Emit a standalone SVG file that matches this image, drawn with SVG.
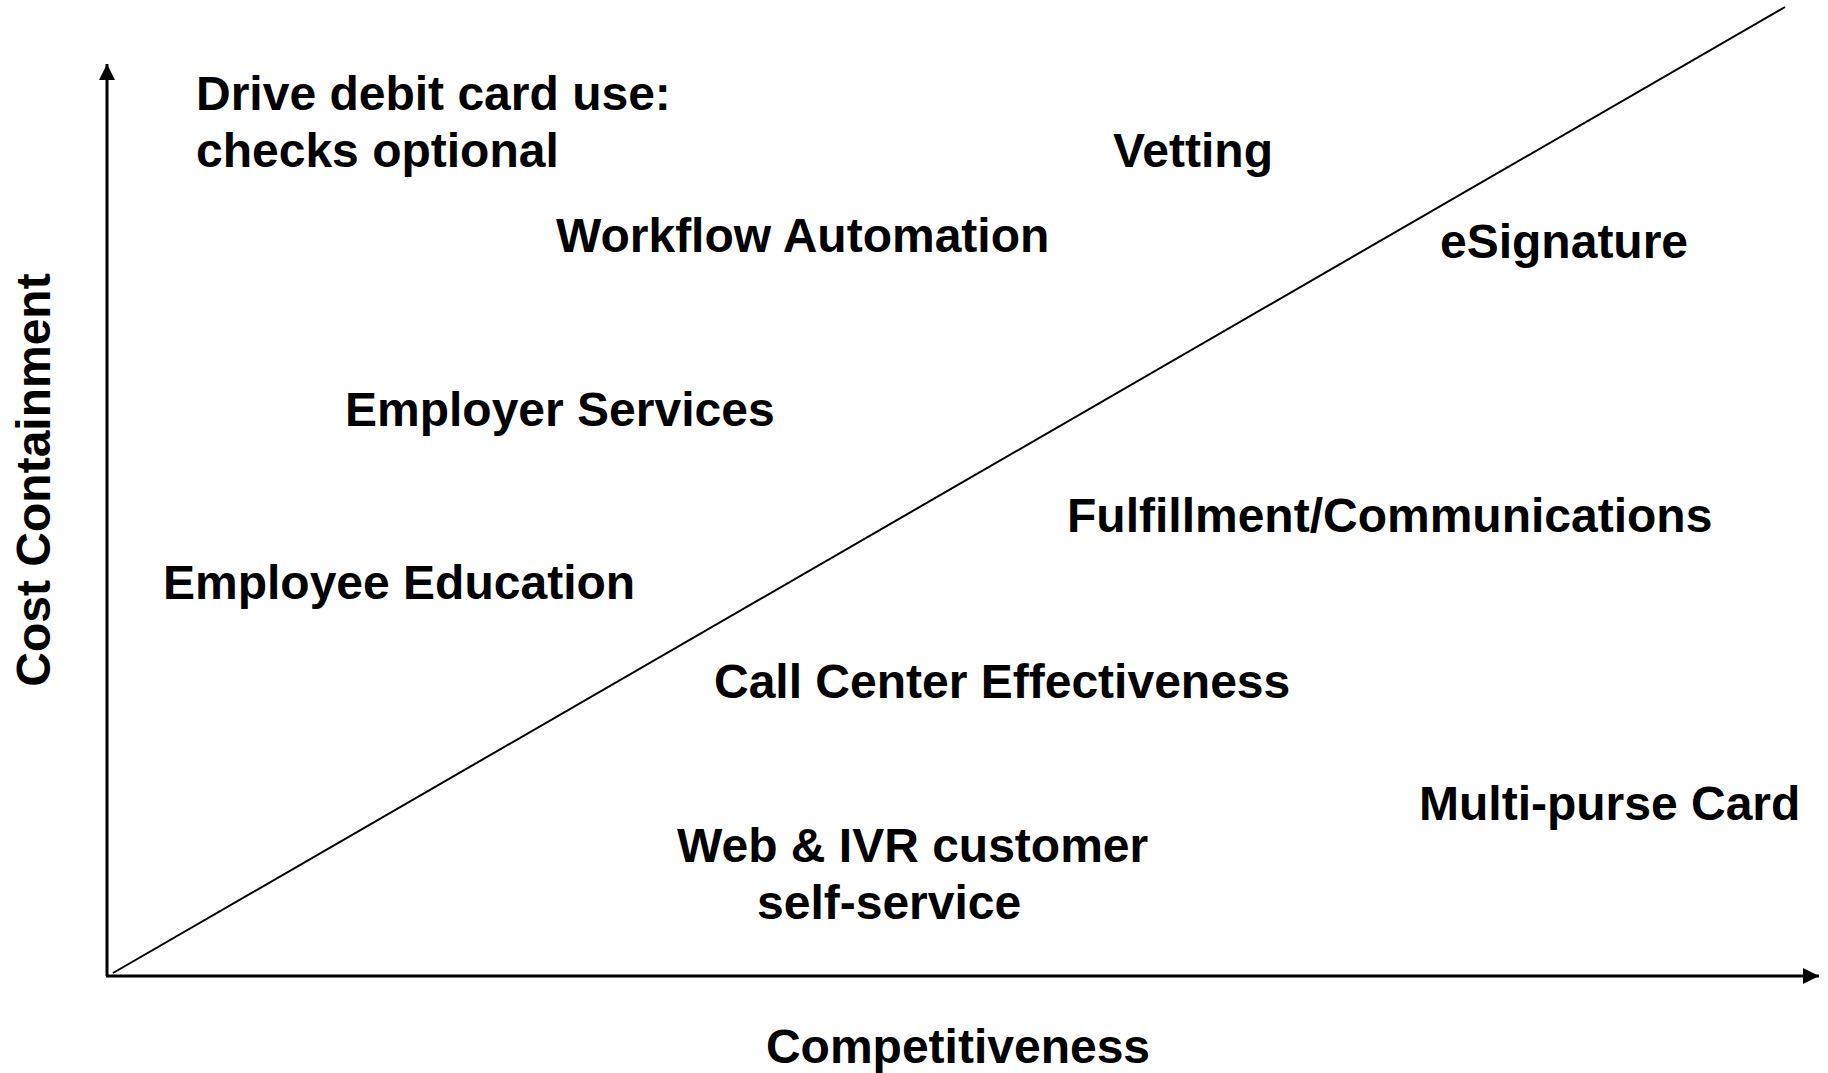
<svg xmlns="http://www.w3.org/2000/svg" width="1828" height="1073" viewBox="0 0 1828 1073">
  <style>
    .lbl { font-family: "Liberation Sans", Arial, sans-serif; font-weight: bold; font-size: 48px; fill: #000; }
    .axis { stroke: #000; stroke-width: 3; fill: none; }
    .diag { stroke: #000; stroke-width: 2; fill: none; }
  </style>
  <defs>
    <marker id="arrow" markerWidth="16" markerHeight="16" refX="16" refY="8" orient="auto" markerUnits="userSpaceOnUse">
      <path d="M0,0 L16,8 L0,16 Z" fill="#000"/>
    </marker>
  </defs>
  <rect width="1828" height="1073" fill="#fff"/>

  <!-- axes and the dividing diagonal -->
  <g id="connectors">
    <line class="axis" x1="107" y1="976" x2="107" y2="64" marker-end="url(#arrow)"/>
    <line class="axis" x1="106" y1="976" x2="1819" y2="976" marker-end="url(#arrow)"/>
    <line class="diag" x1="113" y1="973" x2="1785" y2="7"/>
  </g>

  <!-- axis titles -->
  <g id="axis-y-title">
    <text class="lbl" transform="translate(50,480) rotate(-90)" text-anchor="middle">Cost Containment</text>
  </g>
  <g id="axis-x-title">
    <text class="lbl" x="958" y="1063" text-anchor="middle">Competitiveness</text>
  </g>

  <!-- initiatives -->
  <g id="drive-debit">
    <text class="lbl" x="196" y="110">Drive debit card use:</text>
    <text class="lbl" x="196" y="167">checks optional</text>
  </g>
  <g id="vetting">
    <text class="lbl" x="1113" y="167">Vetting</text>
  </g>
  <g id="workflow">
    <text class="lbl" x="556" y="252">Workflow Automation</text>
  </g>
  <g id="esignature">
    <text class="lbl" x="1440" y="258">eSignature</text>
  </g>
  <g id="employer-services">
    <text class="lbl" x="345" y="426">Employer Services</text>
  </g>
  <g id="fulfillment">
    <text class="lbl" x="1067" y="532">Fulfillment/Communications</text>
  </g>
  <g id="employee-education">
    <text class="lbl" x="163" y="599">Employee Education</text>
  </g>
  <g id="call-center">
    <text class="lbl" x="714" y="698">Call Center Effectiveness</text>
  </g>
  <g id="multi-purse">
    <text class="lbl" x="1419" y="820">Multi-purse Card</text>
  </g>
  <g id="web-ivr">
    <text class="lbl" x="677" y="862">Web &amp; IVR customer</text>
    <text class="lbl" x="757" y="919">self-service</text>
  </g>
</svg>
